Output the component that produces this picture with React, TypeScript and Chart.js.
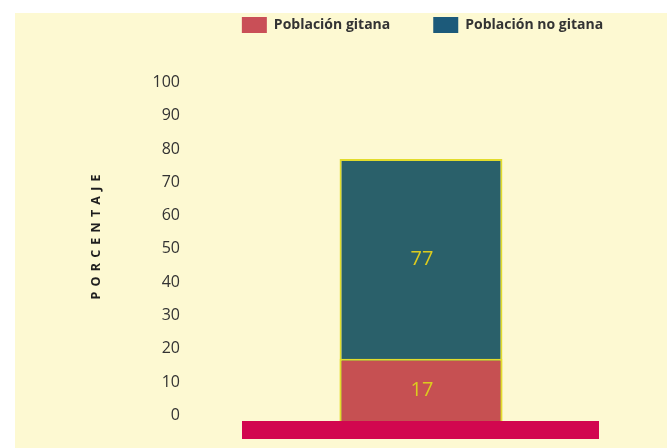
import React, { useEffect, useRef } from "react";
import { Chart, registerables } from "chart.js";

Chart.register(...registerables);

// ---- data ----
const categories = ["Total"];
const seriesNames = ["Población gitana", "Población no gitana"];
const gitanaValues = [17];
const noGitanaValues = [77];
const yTickValues = [0, 10, 20, 30, 40, 50, 60, 70, 80, 90, 100];
const yAxisTitle = "PORCENTAJE";

// ---- layout / style constants ----
const W = 652;
const H = 435;
const AXIS_MIN = -2;
const BG = "#fdf9d2";
const RED = "#c65052";
const TEAL = "#2a606a";
const LEGEND_RED = "#c94f57";
const LEGEND_TEAL = "#1c5a7a";
const BORDER_YELLOW = "#e2dc2c";
const LABEL_YELLOW = "#dccb1e";
const BAND = "#d2074f";
const TEXT = "#333333";
const FONT = "'Open Sans', 'DejaVu Sans', sans-serif";
const LEGEND_PAD = 43;
const LEGEND_H = 69.5;

const legendPatchPlugin = {
  id: "legendPatch",
  beforeLayout(chart: any) {
    const legend = chart.legend;
    if (legend && !legend.__patched) {
      const origFit = legend.fit;
      legend.fit = function () {
        origFit.call(this);
        this.height = LEGEND_H;
      };
      const origDraw = legend.draw;
      legend.draw = function () {
        const ctx = this.ctx;
        const area = chart.chartArea;
        const rowW = this.lineWidths ? this.lineWidths[0] : 0;
        const curStart = (this.left + LEGEND_PAD + this.right - rowW) / 2;
        const wantStart = (area.left + LEGEND_PAD + area.right - rowW) / 2;
        ctx.save();
        ctx.translate(wantStart - curStart + 1.5, 4 - LEGEND_PAD);
        origDraw.call(this);
        ctx.restore();
      };
      legend.__patched = true;
    }
  },
};

const decorPlugin = {
  id: "decor",
  afterDatasetsDraw(chart: any) {
    const { ctx, chartArea } = chart;
    const yScale = chart.scales.y;
    ctx.save();
    ctx.fillStyle = BAND;
    ctx.fillRect(chartArea.left, chartArea.bottom - 1, chartArea.right - chartArea.left - 1, 18);
    ctx.restore();
    const all = chart.data.datasets.map((d: any) => d.data[0] as number);
    chart.data.datasets.forEach((ds: any, i: number) => {
      const meta = chart.getDatasetMeta(i);
      const el = meta.data[0];
      if (!el) return;
      const v = ds.data[0] as number;
      const lowers = all.filter((o: number) => o < v);
      const lower = lowers.length ? Math.max(...lowers) : AXIS_MIN;
      const y = yScale.getPixelForValue((lower + v) / 2);
      ctx.save();
      ctx.fillStyle = LABEL_YELLOW;
      ctx.font = `20px ${FONT}`;
      ctx.textAlign = "center";
      ctx.textBaseline = "middle";
      ctx.fillText(String(v), el.x + 1, y);
      ctx.restore();
    });
  },
  afterDraw(chart: any) {
    const { ctx } = chart;
    ctx.save();
    ctx.translate(81, 224);
    ctx.rotate(-Math.PI / 2);
    ctx.fillStyle = "#1e1e1e";
    ctx.font = `bold 12.5px ${FONT}`;
    (ctx as any).letterSpacing = "5.2px";
    ctx.textAlign = "center";
    ctx.textBaseline = "middle";
    ctx.fillText(yAxisTitle, 2.6, 0);
    ctx.restore();
  },
};

export default function App() {
  const ref = useRef<HTMLCanvasElement | null>(null);

  useEffect(() => {
    if (!ref.current) return;
    const chart = new Chart(ref.current, {
      type: "bar",
      data: {
        labels: categories,
        datasets: [
          {
            label: seriesNames[0],
            data: gitanaValues,
            backgroundColor: RED,
            borderColor: BORDER_YELLOW,
            borderWidth: 2,
            base: AXIS_MIN,
            grouped: false,
            categoryPercentage: 1,
            barPercentage: 0.455,
          } as any,
          {
            label: seriesNames[1],
            data: noGitanaValues,
            backgroundColor: TEAL,
            borderColor: BORDER_YELLOW,
            borderWidth: 2,
            base: AXIS_MIN,
            grouped: false,
            categoryPercentage: 1,
            barPercentage: 0.455,
          } as any,
        ],
      },
      options: {
        responsive: false,
        animation: false,
        layout: { padding: { top: 0, left: 0, right: 67, bottom: 26 } },
        plugins: {
          legend: {
            display: true,
            position: "top",
            labels: {
              boxWidth: 25,
              boxHeight: 16,
              padding: LEGEND_PAD,
              color: TEXT,
              font: { family: FONT, size: 14, weight: "bold" },
              generateLabels(chart: any) {
                const items = Chart.defaults.plugins.legend.labels.generateLabels(chart);
                const cols = [LEGEND_RED, LEGEND_TEAL];
                return items.map((it: any, i: number) => ({
                  ...it,
                  fillStyle: cols[i],
                  strokeStyle: cols[i],
                  lineWidth: 0,
                }));
              },
            },
          },
          tooltip: { enabled: false },
          title: { display: false },
        },
        scales: {
          x: { display: false },
          y: {
            min: AXIS_MIN,
            max: 100,
            grid: { display: false, drawTicks: false },
            border: { display: false },
            afterBuildTicks(scale: any) {
              scale.ticks = yTickValues.map((v) => ({ value: v }));
            },
            afterFit(scale: any) {
              scale.width = 227;
              scale.paddingTop = 10;
              scale.paddingBottom = 10;
            },
            ticks: {
              padding: 62,
              color: TEXT,
              font: { family: FONT, size: 16 },
            },
          },
        },
      } as any,
      plugins: [legendPatchPlugin, decorPlugin],
    });
    return () => chart.destroy();
  }, []);

  return (
    <div
      style={{
        position: "absolute",
        left: 15,
        top: 13,
        width: W,
        height: H,
        background: BG,
      }}
    >
      <canvas ref={ref} width={W} height={H} />
    </div>
  );
}
